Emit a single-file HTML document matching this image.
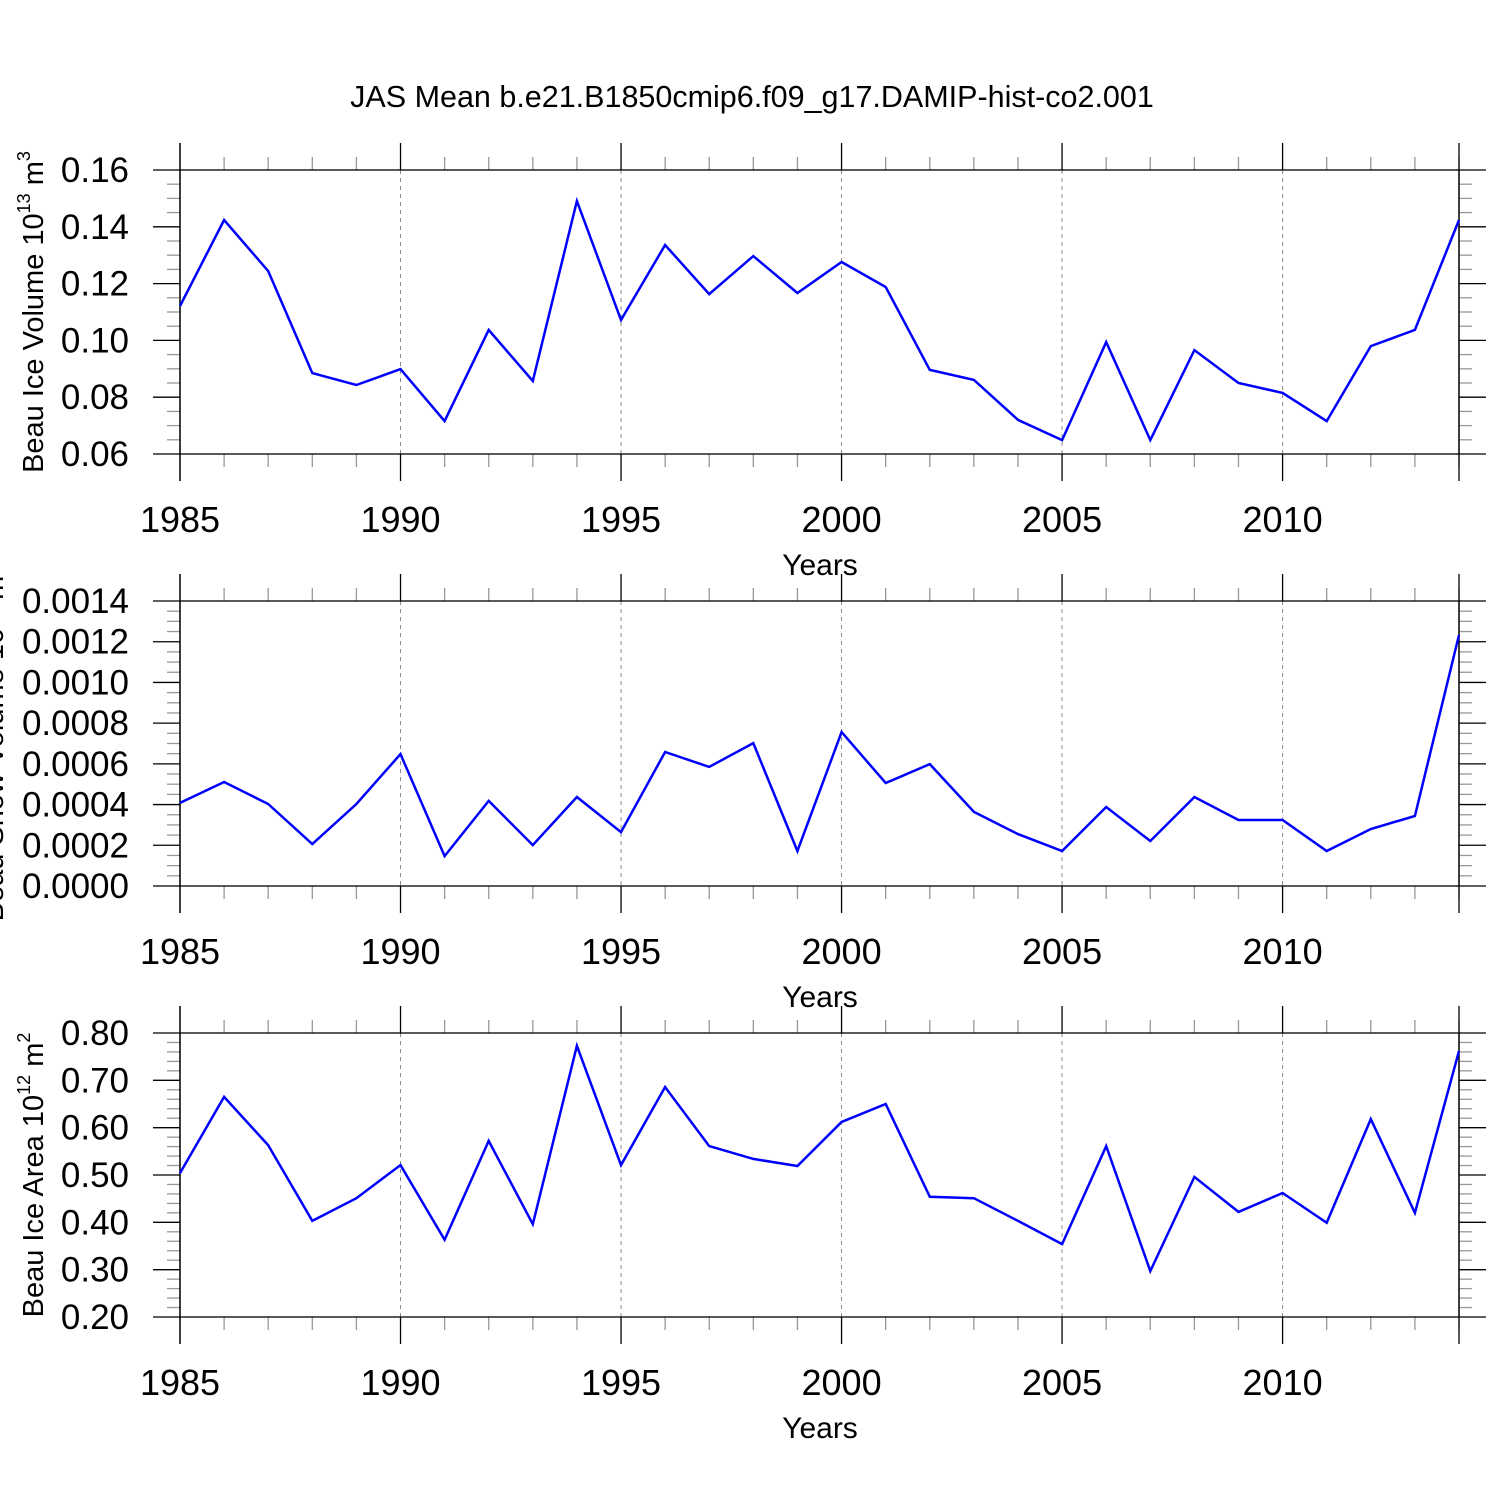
<!DOCTYPE html>
<html><head><meta charset="utf-8"><style>
html,body{margin:0;padding:0;background:#fff}
svg{display:block;font-family:"Liberation Sans",Arial,sans-serif}
</style></head><body>
<svg id="chart" width="1500" height="1500" viewBox="0 0 1500 1500" xmlns="http://www.w3.org/2000/svg">
<text x="752" y="107" font-size="30.5" text-anchor="middle">JAS Mean b.e21.B1850cmip6.f09_g17.DAMIP-hist-co2.001</text>
</svg>
<script>
const years = [1985,1986,1987,1988,1989,1990,1991,1992,1993,1994,1995,1996,1997,1998,1999,2000,2001,2002,2003,2004,2005,2006,2007,2008,2009,2010,2011,2012,2013,2014];
const iceVolume = [0.1121,0.1424,0.1244,0.0885,0.0843,0.0899,0.0716,0.1037,0.0857,0.1491,0.1072,0.1336,0.1163,0.1297,0.1167,0.1276,0.1188,0.0896,0.0861,0.0720,0.0649,0.0994,0.0649,0.0966,0.0850,0.0815,0.0716,0.0980,0.1037,0.1424];
const snowVolume = [0.000408,0.000511,0.000403,0.000206,0.000403,0.000648,0.000147,0.000418,0.000201,0.000437,0.000265,0.000658,0.000585,0.000702,0.000172,0.000756,0.000506,0.000599,0.000364,0.000255,0.000172,0.000388,0.000221,0.000437,0.000324,0.000324,0.000172,0.000280,0.000344,0.001233];
const iceArea = [0.504,0.665,0.563,0.403,0.451,0.521,0.363,0.572,0.396,0.773,0.521,0.686,0.561,0.534,0.519,0.612,0.650,0.454,0.451,0.403,0.354,0.561,0.297,0.496,0.422,0.462,0.399,0.618,0.420,0.762];
const xTickLabels = [1985,1990,1995,2000,2005,2010];
const volTicks = ["0.06","0.08","0.10","0.12","0.14","0.16"];
const snowTicks = ["0.0000","0.0002","0.0004","0.0006","0.0008","0.0010","0.0012","0.0014"];
const areaTicks = ["0.20","0.30","0.40","0.50","0.60","0.70","0.80"];

const NS="http://www.w3.org/2000/svg";
const svg=document.getElementById('chart');
const X0=180,X1=1459;
function xs(yr){return X0+(yr-1985)/(2014-1985)*(X1-X0);}
function mk(tag,attrs,parent){const e=document.createElementNS(NS,tag);for(const k in attrs)e.setAttribute(k,attrs[k]);(parent||svg).appendChild(e);return e;}

function panel(name,top,bot,ymin,ymax,ticks,minorStep,data,label,labelX,sup1,sup2){
  const g=mk('g',{});
  
  
  const ys=v=>bot-(v-ymin)/(ymax-ymin)*(bot-top);
  for(const yr of [1990,1995,2000,2005,2010]){
    const l=mk('line',{x1:xs(yr),x2:xs(yr),y1:top,y2:bot,stroke:'#888','stroke-width':1,'stroke-dasharray':'4,4'},g);
    
    
  }
  for(let yr=1985;yr<=2014;yr++){
    const x=xs(yr);
    const major=(yr%5===0);
    const len=major?27:13;
    mk('line',{x1:x,x2:x,y1:top-len,y2:top,stroke:major?'#000':'#999','stroke-width':1.3},g);
    mk('line',{x1:x,x2:x,y1:bot,y2:bot+len,stroke:major?'#000':'#999','stroke-width':1.3},g);
  }
  const n=Math.round((ymax-ymin)/minorStep);
  const perMajor=Math.round(n/(ticks.length-1));
  for(let i=0;i<=n;i++){
    const v=ymin+i*minorStep;const y=ys(v);
    const major=(i%perMajor===0);
    const len=major?27:13;
    mk('line',{x1:X0-len,x2:X0,y1:y,y2:y,stroke:major?'#000':'#999','stroke-width':1.3},g);
    mk('line',{x1:X1,x2:X1+len,y1:y,y2:y,stroke:major?'#000':'#999','stroke-width':1.3},g);
  }
  ticks.forEach((t,i)=>{
    const v=ymin+i*(ymax-ymin)/(ticks.length-1);
    const tx=mk('text',{x:129,y:ys(v)+12,'font-size':35,'text-anchor':'end'},g);
    tx.textContent=t;
    
    
  });
  xTickLabels.forEach(yr=>{
    const tx=mk('text',{x:xs(yr),y:bot+78,'font-size':36,'text-anchor':'middle'},g);
    tx.textContent=yr;
    
    
  });
  const xt=mk('text',{x:820,y:bot+121,'font-size':30,'text-anchor':'middle'},g);
  xt.textContent='Years';
  
  
  mk('rect',{x:X0,y:top,width:X1-X0,height:bot-top,fill:'none',stroke:'#000','stroke-width':1.3},g);
  mk('line',{x1:X0,x2:X0,y1:top-27,y2:bot+27,stroke:'#000','stroke-width':1.3},g);
  mk('line',{x1:X1,x2:X1,y1:top-27,y2:bot+27,stroke:'#000','stroke-width':1.3},g);
  const pts=years.map((yr,i)=>xs(yr).toFixed(1)+','+ys(data[i]).toFixed(1)).join(' ');
  const pl=mk('polyline',{points:pts,fill:'none',stroke:'#0000ff','stroke-width':2.5,'stroke-linejoin':'miter'},g);
  
  
  const cy=(top+bot)/2;
  const yt=mk('text',{x:labelX,y:cy,'font-size':29,'text-anchor':'middle',transform:'rotate(-90 '+labelX+' '+cy+')'},g);
  
  
  yt.appendChild(document.createTextNode(label+' 10'));
  const s1=mk('tspan',{dy:-13,'font-size':18},yt);s1.textContent=sup1;
  const t2=mk('tspan',{dy:13},yt);t2.textContent=' m';
  const s2=mk('tspan',{dy:-13,'font-size':18},yt);s2.textContent=sup2;
}
panel('ice-volume',170,454,0.06,0.16,volTicks,0.005,iceVolume,'Beau Ice Volume',43,'13','3');
panel('snow-volume',601,886,0,0.0014,snowTicks,0.00005,snowVolume,'Beau Snow Volume',3,'13','3');
panel('ice-area',1033,1317,0.2,0.8,areaTicks,0.02,iceArea,'Beau Ice Area',43,'12','2');
</script>
</body></html>
